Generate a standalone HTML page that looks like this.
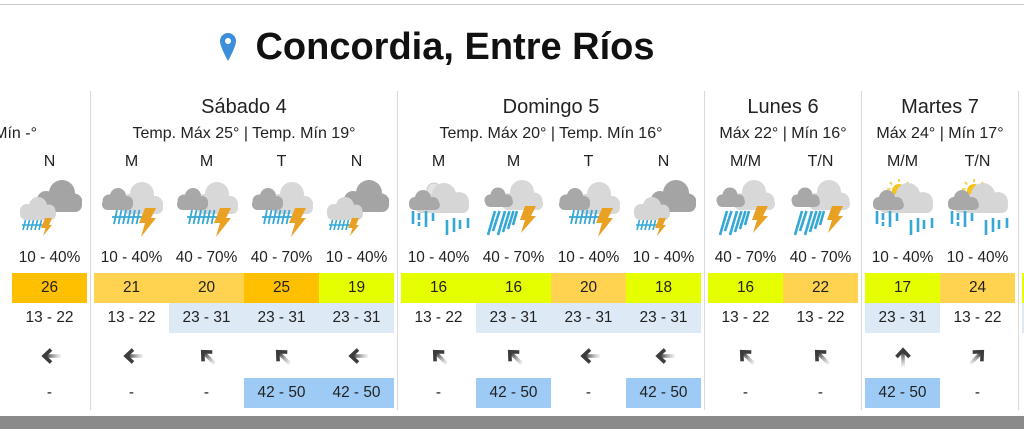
<!DOCTYPE html>
<html><head><meta charset="utf-8">
<style>
html,body{margin:0;padding:0;background:#fff;}
body{width:1024px;height:439px;position:relative;overflow:hidden;font-family:"Liberation Sans",Arial,sans-serif;color:#222;}
.abs{position:absolute;}
.sep{position:absolute;top:91px;width:1px;height:319px;background:#dadada;}
.dn{position:absolute;top:95px;height:25px;line-height:25px;font-size:20px;text-align:center;white-space:nowrap;}
.tl{position:absolute;top:124px;height:20px;line-height:20px;font-size:16px;text-align:center;white-space:nowrap;}
.col{position:absolute;top:0;width:75px;height:439px;}
.col>div{position:absolute;left:0;width:75px;text-align:center;font-size:15.4px;white-space:nowrap;}
.lb{top:152px;height:20px;line-height:20px;font-size:16px !important;}
.ic{top:178px;height:62px;}
.ic svg{display:block;margin:0 auto;}
.pc{top:248px;height:20px;line-height:20px;}
.tp{top:273px;height:30px;line-height:30px;}
.ws{top:303px;height:30px;line-height:30px;}
.ar{top:338px;height:36px;}
.ar svg{display:block;margin:6px auto 0;}
.gs{top:378px;height:30px;line-height:30px;}
.o{background:#ffc000;}
.l{background:#ffd34f;}
.y{background:#e6ff00;}
.b{background:#ddeaf6;}
.g{background:#9ecbf6;}
</style></head>
<body>
<svg style="position:absolute;width:0;height:0" width="0" height="0">
<defs>
<linearGradient id="ag" gradientUnits="userSpaceOnUse" x1="-11" y1="0" x2="4" y2="0">
<stop offset="0" stop-color="#888" stop-opacity="0.1"/>
<stop offset="1" stop-color="#3c3c3c"/>
</linearGradient>
<g id="arr">
<path d="M-11 0H4" stroke="url(#ag)" stroke-width="3.6" fill="none"/>
<path d="M-1 -6.5L6 0L-1 6.5" stroke="#3c3c3c" stroke-width="3.6" fill="none"/>
</g>
<g id="t1">
<g fill="#a4a4a4"><circle cx="44" cy="13" r="13"/><circle cx="28" cy="20" r="9"/><circle cx="56" cy="22" r="8.5"/><rect x="18" y="18" width="46" height="14" rx="7"/></g>
<g fill="#d5d5d5"><circle cx="20" cy="26" r="9"/><circle cx="9" cy="31" r="7"/><circle cx="31" cy="31" r="6.5"/><rect x="2" y="28" width="36" height="12" rx="6"/></g>
<path d="M4 45H26M5 50L7.5 40M9 50L11.5 40M13 50L15.5 40M17 50L19.5 40M21 50L23.5 40" stroke="#36a8d6" stroke-width="1.6" fill="none"/>
<path fill="#e9a124" d="M27 38H34L31 45H34L25 56L27.5 48H23Z"/>
</g>
<g id="t2">
<g fill="#d8d8d8"><circle cx="42" cy="14" r="12"/><circle cx="55" cy="24" r="8"/><circle cx="29" cy="22" r="8"/><rect x="22" y="22" width="41" height="12" rx="6"/></g>
<g fill="#a8a8a8"><circle cx="18" cy="16" r="8"/><circle cx="9" cy="21" r="6.5"/><circle cx="27" cy="22" r="6"/><rect x="2" y="19" width="31" height="11" rx="5.5"/></g>
<path d="M12 37H42M14 44L17 30M18.5 44L21.5 30M23 44L26 30M27.5 44L30.5 30M32 44L35 30M36.5 44L39.5 30" stroke="#36a8d6" stroke-width="1.8" fill="none"/>
<path fill="#e9a124" d="M45 28H56L51 38H56L41 57L45 43H39Z"/>
</g>
<g id="t3">
<g fill="#d8d8d8"><circle cx="40" cy="12" r="12"/><circle cx="52" cy="21" r="8.5"/><circle cx="27" cy="20" r="7"/><rect x="20" y="18" width="41" height="12" rx="6"/></g>
<g fill="#a8a8a8"><circle cx="16" cy="15" r="7.5"/><circle cx="8" cy="20" r="5.5"/><circle cx="25" cy="20" r="5.5"/><rect x="3" y="17" width="28" height="10" rx="5"/></g>
<path d="M6 55L13 31M11 51L17.5 31M16 55L23 31M21 52L27.5 31M26 49L31.5 31M31 45L35 31" stroke="#36a8d6" stroke-width="2.6" fill="none"/>
<path fill="#e9a124" d="M43 26H54L49 36H54L39 53L43 40H38Z"/>
</g>
<g id="cl4">
<g fill="#d6d6d6"><circle cx="37" cy="15" r="12"/><circle cx="52" cy="22" r="10"/><circle cx="23" cy="22" r="8"/><rect x="8" y="20" width="54" height="13" rx="6.5"/></g>
<g fill="#a8a8a8"><circle cx="16" cy="18" r="8"/><circle cx="8" cy="23" r="6"/><circle cx="26" cy="23" r="6"/><rect x="2" y="20" width="31" height="10" rx="5"/></g>
<path d="M6 31V44M12 33V40M12 42V46M19 31V47M26 33V41M40 40V55M47 38V52M53 40V49M61 38V48" stroke="#36a8d6" stroke-width="2.6" fill="none"/>
</g>
<g id="t4s">
<path d="M28 -1V2M19 2L21 4.5M37 2L35 4.5M16 9H19.5M40 9H36.5" stroke="#f3c623" stroke-width="1.6" fill="none"/>
<circle cx="28" cy="11" r="7" fill="#f6c31c"/>
<use href="#cl4"/>
</g>
<g id="t4m">
<circle cx="27" cy="10" r="7" fill="#e4e4e4" stroke="#c4c4c4" stroke-width="0.8"/>
<use href="#cl4"/>
</g>
</defs>
</svg>

<div class="abs" style="left:0;top:4px;width:1024px;height:1px;background:#c8c8c8"></div>

<svg class="abs" style="left:220px;top:33px" width="16" height="28" viewBox="0 0 16 28">
<path d="M8 0C3.6 0 0 3.6 0 8c0 6 8 20 8 20s8-14 8-20C16 3.6 12.4 0 8 0z" fill="#3d8fdb"/>
<circle cx="8" cy="8" r="3" fill="#fff"/>
</svg>
<div class="abs" style="left:0;top:25px;width:910px;height:44px;line-height:44px;font-size:38px;font-weight:bold;text-align:center;color:#111;white-space:nowrap">Concordia, Entre Ríos</div>

<div class="sep" style="left:90px"></div>
<div class="sep" style="left:397px"></div>
<div class="sep" style="left:704px"></div>
<div class="sep" style="left:861px"></div>
<div class="sep" style="left:1018px"></div>

<div class="abs" style="left:0;top:124px;width:37px;height:20px;line-height:20px;font-size:16px;white-space:nowrap;overflow:hidden;display:flex;justify-content:flex-end"><span>Máx -° | Mín -°</span></div>

<div class="dn" style="left:94px;width:300px">Sábado 4</div>
<div class="tl" style="left:94px;width:300px">Temp. Máx 25° | Temp. Mín 19°</div>
<div class="dn" style="left:401px;width:300px">Domingo 5</div>
<div class="tl" style="left:401px;width:300px">Temp. Máx 20° | Temp. Mín 16°</div>
<div class="dn" style="left:708px;width:150px">Lunes 6</div>
<div class="tl" style="left:708px;width:150px">Máx 22° | Mín 16°</div>
<div class="dn" style="left:865px;width:150px">Martes 7</div>
<div class="tl" style="left:865px;width:150px">Máx 24° | Mín 17°</div>

<!-- c0 -->
<div class="col" style="left:12px">
<div class="lb">N</div>
<div class="ic"><svg width="64" height="62" viewBox="0 -2 64 62"><use href="#t1"/></svg></div>
<div class="pc">10 - 40%</div>
<div class="tp o">26</div>
<div class="ws">13 - 22</div>
<div class="ar"><svg width="24" height="24" viewBox="-12 -12 24 24"><g transform="rotate(180)"><use href="#arr"/></g></svg></div>
<div class="gs">-</div>
</div>

<!-- Sabado -->
<div class="col" style="left:94px">
<div class="lb">M</div>
<div class="ic"><svg width="64" height="62" viewBox="0 -2 64 62"><use href="#t2"/></svg></div>
<div class="pc">10 - 40%</div>
<div class="tp l">21</div>
<div class="ws">13 - 22</div>
<div class="ar"><svg width="24" height="24" viewBox="-12 -12 24 24"><g transform="rotate(180)"><use href="#arr"/></g></svg></div>
<div class="gs">-</div>
</div>
<div class="col" style="left:169px">
<div class="lb">M</div>
<div class="ic"><svg width="64" height="62" viewBox="0 -2 64 62"><use href="#t2"/></svg></div>
<div class="pc">40 - 70%</div>
<div class="tp l">20</div>
<div class="ws b">23 - 31</div>
<div class="ar"><svg width="24" height="24" viewBox="-12 -12 24 24"><g transform="rotate(-135)"><use href="#arr"/></g></svg></div>
<div class="gs">-</div>
</div>
<div class="col" style="left:244px">
<div class="lb">T</div>
<div class="ic"><svg width="64" height="62" viewBox="0 -2 64 62"><use href="#t2"/></svg></div>
<div class="pc">40 - 70%</div>
<div class="tp o">25</div>
<div class="ws b">23 - 31</div>
<div class="ar"><svg width="24" height="24" viewBox="-12 -12 24 24"><g transform="rotate(-135)"><use href="#arr"/></g></svg></div>
<div class="gs g">42 - 50</div>
</div>
<div class="col" style="left:319px">
<div class="lb">N</div>
<div class="ic"><svg width="64" height="62" viewBox="0 -2 64 62"><use href="#t1"/></svg></div>
<div class="pc">10 - 40%</div>
<div class="tp y">19</div>
<div class="ws b">23 - 31</div>
<div class="ar"><svg width="24" height="24" viewBox="-12 -12 24 24"><g transform="rotate(180)"><use href="#arr"/></g></svg></div>
<div class="gs g">42 - 50</div>
</div>

<!-- Domingo -->
<div class="col" style="left:401px">
<div class="lb">M</div>
<div class="ic"><svg width="64" height="62" viewBox="0 -2 64 62"><use href="#t4m"/></svg></div>
<div class="pc">10 - 40%</div>
<div class="tp y">16</div>
<div class="ws">13 - 22</div>
<div class="ar"><svg width="24" height="24" viewBox="-12 -12 24 24"><g transform="rotate(-135)"><use href="#arr"/></g></svg></div>
<div class="gs">-</div>
</div>
<div class="col" style="left:476px">
<div class="lb">M</div>
<div class="ic"><svg width="64" height="62" viewBox="0 -2 64 62"><use href="#t3"/></svg></div>
<div class="pc">40 - 70%</div>
<div class="tp y">16</div>
<div class="ws b">23 - 31</div>
<div class="ar"><svg width="24" height="24" viewBox="-12 -12 24 24"><g transform="rotate(-135)"><use href="#arr"/></g></svg></div>
<div class="gs g">42 - 50</div>
</div>
<div class="col" style="left:551px">
<div class="lb">T</div>
<div class="ic"><svg width="64" height="62" viewBox="0 -2 64 62"><use href="#t2"/></svg></div>
<div class="pc">10 - 40%</div>
<div class="tp l">20</div>
<div class="ws b">23 - 31</div>
<div class="ar"><svg width="24" height="24" viewBox="-12 -12 24 24"><g transform="rotate(180)"><use href="#arr"/></g></svg></div>
<div class="gs">-</div>
</div>
<div class="col" style="left:626px">
<div class="lb">N</div>
<div class="ic"><svg width="64" height="62" viewBox="0 -2 64 62"><use href="#t1"/></svg></div>
<div class="pc">10 - 40%</div>
<div class="tp y">18</div>
<div class="ws b">23 - 31</div>
<div class="ar"><svg width="24" height="24" viewBox="-12 -12 24 24"><g transform="rotate(180)"><use href="#arr"/></g></svg></div>
<div class="gs g">42 - 50</div>
</div>

<!-- Lunes -->
<div class="col" style="left:708px">
<div class="lb">M/M</div>
<div class="ic"><svg width="64" height="62" viewBox="0 -2 64 62"><use href="#t3"/></svg></div>
<div class="pc">40 - 70%</div>
<div class="tp y">16</div>
<div class="ws">13 - 22</div>
<div class="ar"><svg width="24" height="24" viewBox="-12 -12 24 24"><g transform="rotate(-135)"><use href="#arr"/></g></svg></div>
<div class="gs">-</div>
</div>
<div class="col" style="left:783px">
<div class="lb">T/N</div>
<div class="ic"><svg width="64" height="62" viewBox="0 -2 64 62"><use href="#t3"/></svg></div>
<div class="pc">40 - 70%</div>
<div class="tp l">22</div>
<div class="ws">13 - 22</div>
<div class="ar"><svg width="24" height="24" viewBox="-12 -12 24 24"><g transform="rotate(-135)"><use href="#arr"/></g></svg></div>
<div class="gs">-</div>
</div>

<!-- Martes -->
<div class="col" style="left:865px">
<div class="lb">M/M</div>
<div class="ic"><svg width="64" height="62" viewBox="0 -2 64 62"><use href="#t4s"/></svg></div>
<div class="pc">10 - 40%</div>
<div class="tp y">17</div>
<div class="ws b">23 - 31</div>
<div class="ar"><svg width="24" height="24" viewBox="-12 -12 24 24"><g transform="rotate(-90)"><use href="#arr"/></g></svg></div>
<div class="gs g">42 - 50</div>
</div>
<div class="col" style="left:940px">
<div class="lb">T/N</div>
<div class="ic"><svg width="64" height="62" viewBox="0 -2 64 62"><use href="#t4s"/></svg></div>
<div class="pc">10 - 40%</div>
<div class="tp l">24</div>
<div class="ws">13 - 22</div>
<div class="ar"><svg width="24" height="24" viewBox="-12 -12 24 24"><g transform="rotate(-45)"><use href="#arr"/></g></svg></div>
<div class="gs">-</div>
</div>

<!-- next partial -->
<div class="abs y" style="left:1022px;top:273px;width:2px;height:30px"></div>
<div class="abs b" style="left:1022px;top:303px;width:2px;height:30px"></div>

<div class="abs" style="left:0;top:416px;width:1024px;height:13px;background:#8a8a8a"></div>
</body></html>
